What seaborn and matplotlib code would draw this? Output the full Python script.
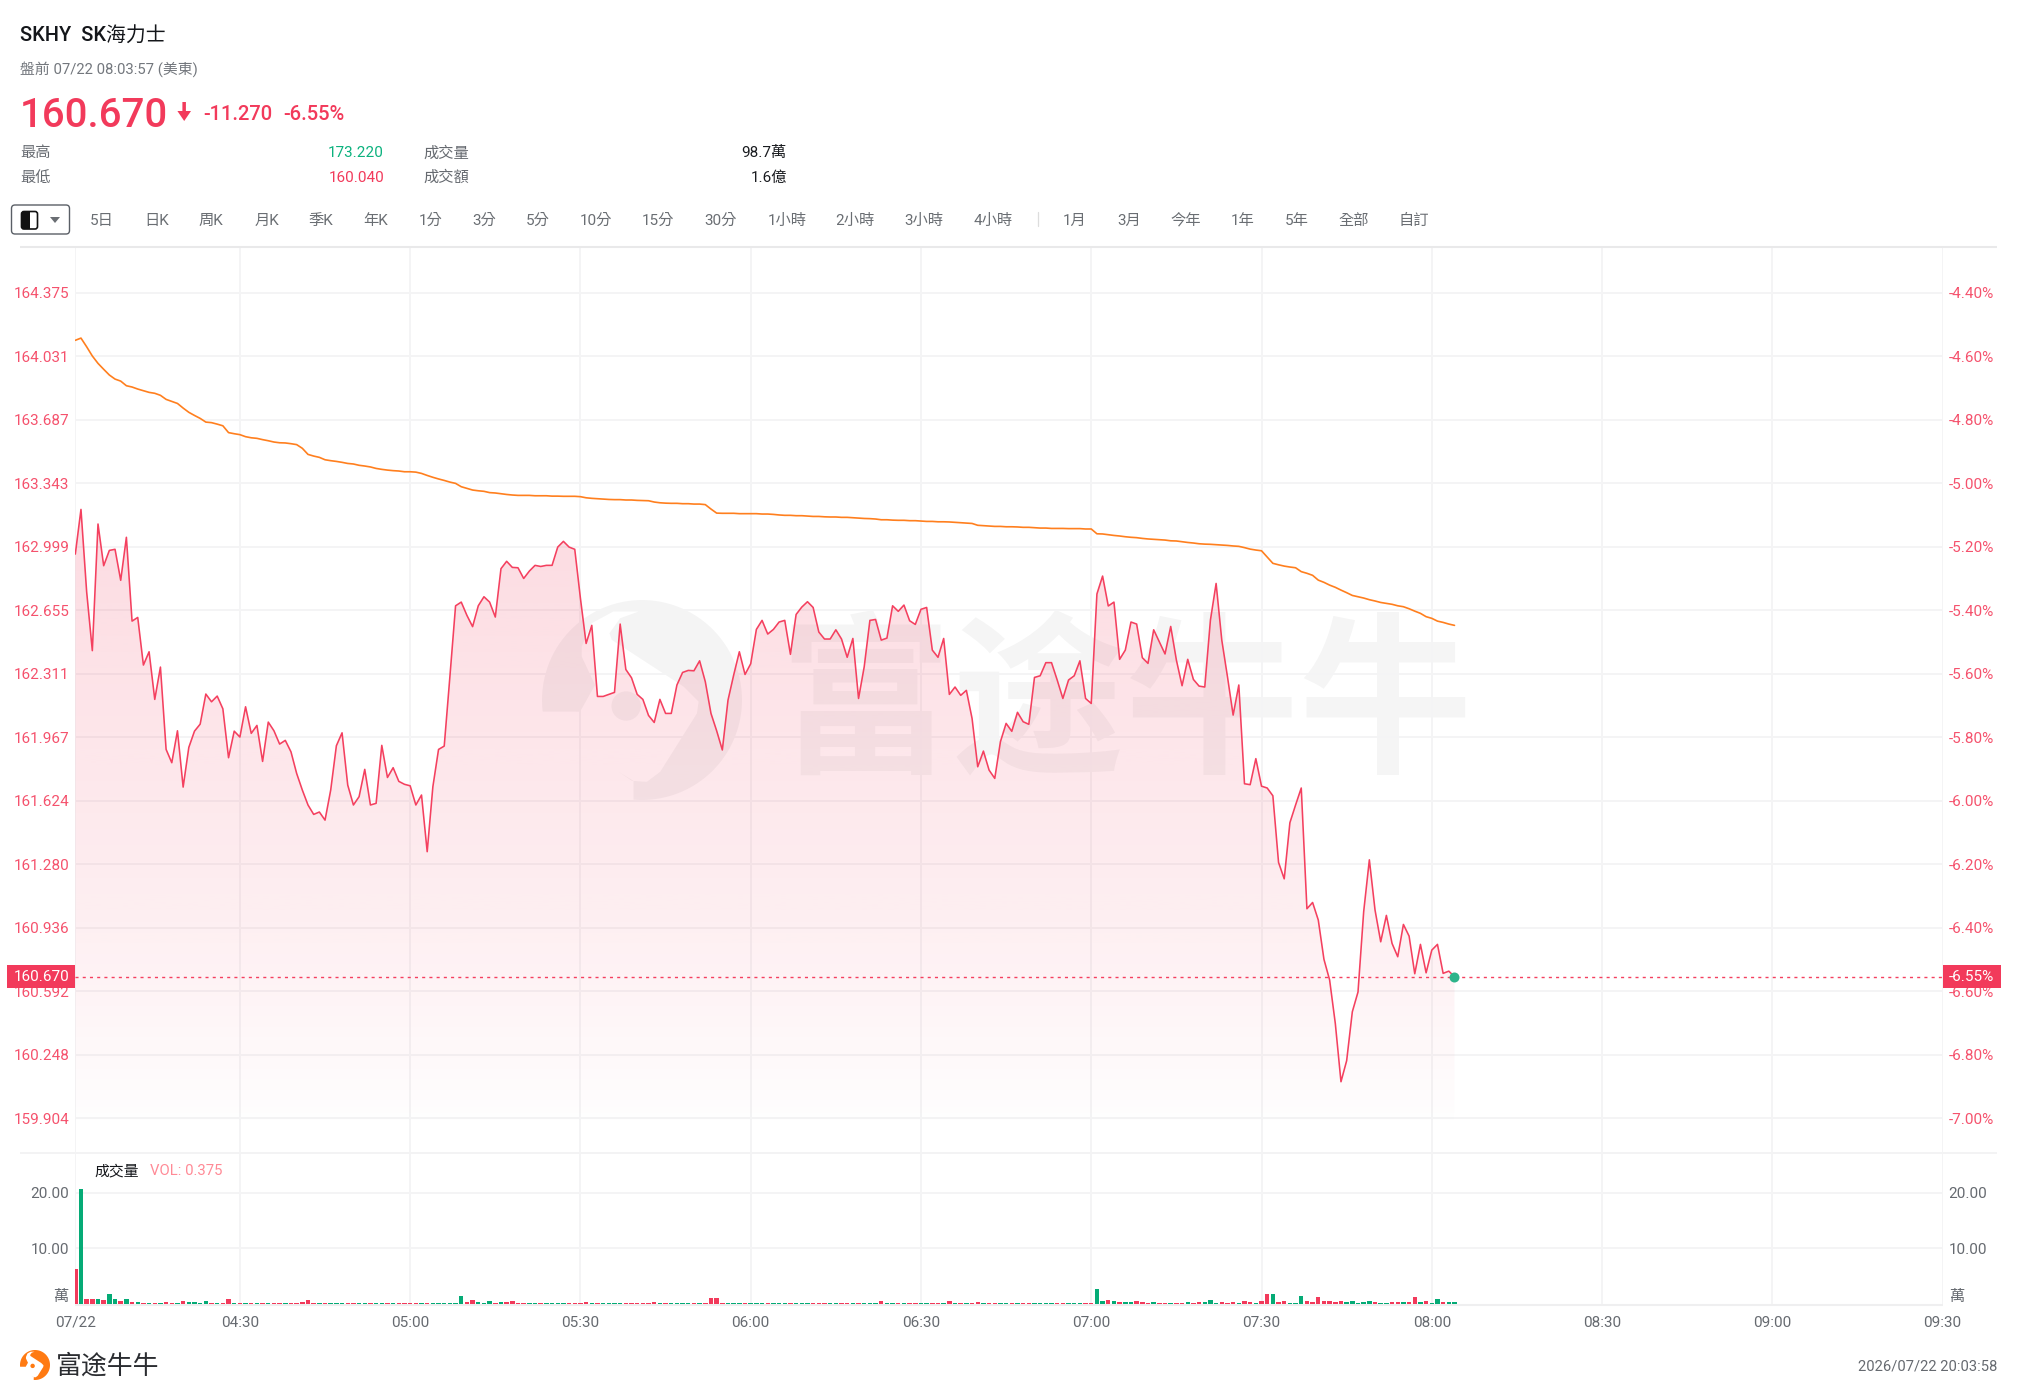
import numpy as np
import pandas as pd
import matplotlib
matplotlib.use("Agg")
import matplotlib.pyplot as plt
from matplotlib.patches import FancyBboxPatch, Polygon, Rectangle, Circle
import seaborn as sns

# ---------- data ----------
price = [
    162.959,163.201,162.755,162.436,163.122,162.896,162.979,162.985,162.817,163.050,
    162.596,162.616,162.358,162.430,162.172,162.347,161.901,161.829,162.002,161.697,
    161.912,162.000,162.038,162.201,162.159,162.190,162.121,161.856,162.000,161.968,
    162.132,161.988,162.031,161.836,162.049,162.002,161.930,161.950,161.888,161.771,
    161.681,161.600,161.549,161.562,161.518,161.681,161.921,161.991,161.708,161.600,
    161.645,161.793,161.600,161.609,161.923,161.749,161.802,161.728,161.712,161.704,
    161.600,161.654,161.347,161.699,161.901,161.919,162.295,162.679,162.699,162.627,
    162.566,162.679,162.728,162.699,162.618,162.880,162.920,162.887,162.885,162.827,
    162.867,162.898,162.892,162.898,162.898,162.997,163.028,162.997,162.985,162.719,
    162.475,162.573,162.188,162.188,162.199,162.210,162.580,162.334,162.289,162.199,
    162.172,162.085,162.047,162.172,162.096,162.096,162.250,162.318,162.329,162.327,
    162.381,162.268,162.096,162.002,161.898,162.168,162.304,162.430,162.307,162.365,
    162.551,162.600,162.526,162.551,162.591,162.600,162.416,162.632,162.672,162.701,
    162.670,162.537,162.499,162.499,162.549,162.499,162.400,162.502,162.177,162.349,
    162.600,162.605,162.493,162.504,162.679,162.649,162.683,162.598,162.578,162.660,
    162.670,162.439,162.400,162.502,162.199,162.239,162.194,162.221,162.069,161.807,
    161.892,161.789,161.744,161.943,162.042,161.999,162.102,162.051,162.037,162.291,
    162.300,162.371,162.371,162.277,162.177,162.277,162.300,162.381,162.177,162.150,
    162.743,162.840,162.678,162.699,162.389,162.439,162.591,162.580,162.398,162.367,
    162.549,162.484,162.418,162.567,162.385,162.246,162.389,162.280,162.244,162.239,
    162.602,162.800,162.493,162.295,162.087,162.250,161.715,161.710,161.851,161.702,
    161.692,161.650,161.289,161.200,161.504,161.600,161.692,161.038,161.072,160.977,
    160.764,160.652,160.417,160.101,160.215,160.480,160.587,161.022,161.303,161.031,
    160.859,161.002,160.850,160.778,160.953,160.890,160.686,160.845,160.691,160.814,
    160.845,160.688,160.700,160.670,
]
vwap = [
    164.117,164.129,164.082,164.032,163.992,163.960,163.929,163.907,163.896,163.871,
    163.864,163.853,163.844,163.835,163.830,163.819,163.797,163.786,163.775,163.750,
    163.727,163.710,163.694,163.674,163.671,163.663,163.654,163.617,163.611,163.606,
    163.595,163.589,163.586,163.579,163.573,163.566,163.562,163.561,163.557,163.552,
    163.532,163.499,163.490,163.483,163.470,163.465,163.461,163.456,163.450,163.447,
    163.440,163.436,163.431,163.423,163.418,163.414,163.411,163.409,163.405,163.405,
    163.403,163.396,163.385,163.375,163.366,163.358,163.349,163.342,163.324,163.315,
    163.306,163.302,163.299,163.292,163.290,163.286,163.282,163.279,163.277,163.277,
    163.277,163.275,163.275,163.275,163.273,163.273,163.272,163.272,163.272,163.270,
    163.264,163.261,163.259,163.257,163.255,163.254,163.254,163.252,163.252,163.250,
    163.249,163.248,163.241,163.237,163.235,163.234,163.234,163.232,163.232,163.230,
    163.230,163.227,163.203,163.181,163.180,163.180,163.180,163.178,163.178,163.178,
    163.178,163.176,163.176,163.174,163.171,163.169,163.169,163.167,163.167,163.165,
    163.163,163.163,163.161,163.160,163.160,163.158,163.158,163.156,163.154,163.152,
    163.151,163.149,163.145,163.145,163.143,163.142,163.142,163.140,163.140,163.138,
    163.136,163.136,163.134,163.134,163.133,163.131,163.129,163.127,163.125,163.115,
    163.113,163.111,163.109,163.109,163.107,163.107,163.106,163.104,163.104,163.102,
    163.100,163.100,163.098,163.098,163.098,163.097,163.097,163.097,163.095,163.095,
    163.069,163.068,163.064,163.060,163.057,163.053,163.050,163.048,163.044,163.041,
    163.039,163.037,163.035,163.031,163.030,163.026,163.022,163.019,163.015,163.013,
    163.012,163.010,163.008,163.006,163.003,163.001,162.994,162.986,162.981,162.977,
    162.943,162.909,162.901,162.894,162.889,162.885,162.864,162.855,162.844,162.818,
    162.806,162.791,162.779,162.764,162.750,162.735,162.728,162.721,162.712,162.705,
    162.697,162.692,162.687,162.679,162.674,162.663,162.650,162.638,162.620,162.611,
    162.596,162.589,162.580,162.573,
]
volume = [
    6.3,20.6,0.9,0.9,0.8,0.7,1.8,0.8,0.5,0.9,
    0.3,0.3,0.2,0.2,0.2,0.2,0.3,0.2,0.2,0.5,
    0.35,0.3,0.2,0.5,0.2,0.2,0.2,0.9,0.2,0.2,
    0.25,0.2,0.2,0.2,0.2,0.2,0.2,0.2,0.2,0.2,
    0.4,0.7,0.2,0.2,0.2,0.2,0.2,0.2,0.2,0.2,
    0.2,0.2,0.2,0.2,0.2,0.2,0.2,0.2,0.2,0.2,
    0.2,0.2,0.2,0.2,0.2,0.2,0.2,0.2,1.4,0.35,
    0.65,0.35,0.2,0.55,0.2,0.3,0.4,0.5,0.2,0.2,
    0.2,0.2,0.2,0.2,0.2,0.2,0.2,0.2,0.2,0.2,
    0.4,0.2,0.2,0.2,0.2,0.2,0.2,0.2,0.2,0.2,
    0.2,0.2,0.3,0.2,0.2,0.2,0.2,0.2,0.2,0.2,
    0.2,0.2,1.1,1.0,0.2,0.2,0.2,0.2,0.2,0.2,
    0.2,0.2,0.2,0.2,0.2,0.2,0.2,0.2,0.25,0.2,
    0.2,0.2,0.2,0.2,0.2,0.2,0.2,0.2,0.2,0.2,
    0.2,0.2,0.45,0.2,0.2,0.2,0.2,0.2,0.2,0.2,
    0.2,0.2,0.2,0.2,0.45,0.2,0.2,0.2,0.2,0.35,
    0.2,0.2,0.2,0.2,0.2,0.2,0.2,0.2,0.2,0.2,
    0.2,0.2,0.2,0.2,0.2,0.2,0.2,0.2,0.2,0.2,
    2.6,0.5,0.65,0.6,0.3,0.3,0.3,0.55,0.35,0.25,
    0.35,0.2,0.2,0.2,0.2,0.2,0.35,0.2,0.3,0.35,
    0.65,0.2,0.4,0.2,0.3,0.2,0.55,0.35,0.2,0.55,
    1.8,1.8,0.3,0.55,0.2,0.2,1.45,0.55,0.3,1.25,
    0.55,0.55,0.35,0.5,0.35,0.55,0.2,0.3,0.55,0.35,
    0.25,0.25,0.4,0.4,0.35,0.3,1.25,0.35,0.55,0.2,
    0.85,0.4,0.3,0.3,
]
green_bars_despite_fall = [73, 199, 211, 230, 243]
red_bars_despite_rise = [0, 76, 218]

prev_close = 171.94
last_price = 160.670
price_ticks = [164.375,164.031,163.687,163.343,162.999,162.655,162.311,
               161.967,161.624,161.280,160.936,160.592,160.248,159.904]
price_tick_labels = ["164.375","164.031","163.687","163.343","162.999","162.655","162.311",
                     "161.967","161.624","161.280","160.936","160.592","160.248","159.904"]
pct_ticks = [-4.40,-4.60,-4.80,-5.00,-5.20,-5.40,-5.60,-5.80,-6.00,-6.20,-6.40,-6.60,-6.80,-7.00]
time_tick_idx = [0,29,59,89,119,149,179,209,239,269,299,329]
time_labels = ["07/22","04:30","05:00","05:30","06:00","06:30","07:00","07:30","08:00","08:30","09:00","09:30"]
vol_ticks = [10, 20]
periods = ["5日","日K","周K","月K","季K","年K","1分","3分","5分","10分","15分","30分",
           "1小時","2小時","3小時","4小時","1月","3月","今年","1年","5年","全部","自訂"]
period_x = [101.4,157,211,266.6,321,376,430.5,484,538,596,658,720.7,787,855,924,993,
            1074.7,1129,1186,1243,1297,1354,1413.6]

# ---------- style ----------
RED = "#F23A5B"
LINE_RED = "#F4405F"
LABEL_RED = "#F5526D"
GREEN = "#05AB76"
ORANGE = "#FF7F1E"
GRID = "#F4F4F5"
GREY = "#666A70"
FONT = ["Roboto", "Noto Sans CJK TC", "DejaVu Sans"]

sns.set_theme(style="white")
plt.rcParams["font.family"] = FONT
plt.rcParams["axes.unicode_minus"] = False

W, H = 2018, 1399
fig = plt.figure(figsize=(W / 100, H / 100), dpi=100, facecolor="white")

def box(x0, y0, x1, y1):
    return [x0 / W, 1 - y1 / H, (x1 - x0) / W, (y1 - y0) / H]

under = fig.add_axes([0, 0, 1, 1], zorder=0)
under.set_xlim(0, W); under.set_ylim(H, 0); under.axis("off")
over = fig.add_axes([0, 0, 1, 1], zorder=10)
over.set_xlim(0, W); over.set_ylim(H, 0); over.axis("off"); over.patch.set_alpha(0)

AX_L, AX_R = 75.3, 1942.6
ax = fig.add_axes(box(AX_L, 248, AX_R, 1153), zorder=2)
vax = fig.add_axes(box(AX_L, 1153, AX_R, 1303.9), zorder=2)
for a in (ax, vax):
    a.patch.set_alpha(0)
    for s in a.spines.values():
        s.set_visible(False)

YMIN, YMAX = 159.715, 164.617
df = pd.DataFrame({"minute": np.arange(len(price)), "price": price, "vwap": vwap, "volume": volume})

# gradient area below the price line
stops_y = [YMAX, 162.9, 161.0, 160.0, 159.85, YMIN]
stops_a = [0.18, 0.17, 0.085, 0.016, 0.0, 0.0]
ys = np.linspace(YMAX, YMIN, 400)
grad = np.zeros((400, 1, 4))
grad[..., 0] = 0xF2 / 255; grad[..., 1] = 0x3A / 255; grad[..., 2] = 0x5B / 255
grad[:, 0, 3] = np.interp(ys, stops_y[::-1], stops_a[::-1])
poly = ax.fill_between(df["minute"], df["price"], YMIN, facecolor="none", linewidth=0)
im = ax.imshow(grad, extent=(0, df["minute"].iloc[-1], YMIN, YMAX), aspect="auto", zorder=1, interpolation="bilinear")
im.set_clip_path(poly.get_paths()[0], transform=ax.transData)

sns.lineplot(data=df, x="minute", y="price", ax=ax, color=LINE_RED, linewidth=1.15, estimator=None, errorbar=None, zorder=3)
sns.lineplot(data=df, x="minute", y="vwap", ax=ax, color=ORANGE, linewidth=1.2, estimator=None, errorbar=None, zorder=3)
ax.axhline(last_price, color=LINE_RED, linewidth=1.0, linestyle=(0, (2.2, 3)), zorder=3)
ax.plot([df["minute"].iloc[-1]], [last_price], "o", color="#2DB48A", markersize=7.2, markeredgewidth=0, zorder=4, clip_on=False)

ax.set_xlim(0, 329); ax.set_ylim(YMIN, YMAX)
ax.set_xticks(time_tick_idx); ax.set_xticklabels([])
ax.set_yticks(price_ticks); ax.set_yticklabels(price_tick_labels)
ax.set_xlabel(""); ax.set_ylabel("")
ax.grid(True, color=GRID, linewidth=1.4, zorder=0)
ax.set_axisbelow(True)
ax.tick_params(axis="x", length=0)
ax.tick_params(axis="y", length=0, pad=4.4, labelsize=11, labelcolor=LABEL_RED)
plt.setp(ax.get_yticklabels(), va="center_baseline")

pax = ax.twinx()
pax.patch.set_alpha(0)
for s in pax.spines.values():
    s.set_visible(False)
pax.set_ylim((YMIN / prev_close - 1) * 100, (YMAX / prev_close - 1) * 100)
pax.set_yticks(pct_ticks); pax.set_yticklabels([f"{v:.2f}%" for v in pct_ticks])
pax.grid(False)
pax.tick_params(axis="y", length=0, pad=4.4, labelsize=11, labelcolor=LABEL_RED)
plt.setp(pax.get_yticklabels(), va="center_baseline")

# volume
closes = np.array(price)
rising = np.r_[True, closes[1:] >= closes[:-1]]
rising[green_bars_despite_fall] = True
rising[red_bars_despite_rise] = False
df["direction"] = np.where(rising, "up", "down")
sns.barplot(data=df, x="minute", y="volume", hue="direction", palette={"up": GREEN, "down": RED},
            native_scale=True, dodge=False, width=0.78, legend=False, ax=vax, zorder=3, saturation=1)
for p in vax.patches:
    centre = p.get_x() + p.get_width() / 2
    p.set_width(0.78)
    p.set_x(centre - 0.39)
    p.set_linewidth(0)
vax.set_xlim(0, 329); vax.set_ylim(0, 27.14)
vax.set_xticks(time_tick_idx); vax.set_xticklabels(time_labels)
vax.set_yticks(vol_ticks); vax.set_yticklabels(["10.00", "20.00"])
vax.set_xlabel(""); vax.set_ylabel("")
vax.grid(True, color=GRID, linewidth=1.4, zorder=0)
vax.set_axisbelow(True)
vax.tick_params(axis="x", length=0, pad=8.5, labelsize=11, labelcolor=GREY)
vax.tick_params(axis="y", length=0, pad=4.4, labelsize=11, labelcolor=GREY)
plt.setp(vax.get_yticklabels(), va="center_baseline")
rvax = vax.twinx()
rvax.patch.set_alpha(0)
for s in rvax.spines.values():
    s.set_visible(False)
rvax.set_ylim(0, 27.14)
rvax.set_yticks(vol_ticks); rvax.set_yticklabels(["10.00", "20.00"])
rvax.grid(False)
rvax.tick_params(axis="y", length=0, pad=4.4, labelsize=11, labelcolor=GREY)
plt.setp(rvax.get_yticklabels(), va="center_baseline")

# ---------- logo shape ----------
def logo_paths(cx, cy, r):
    c0, r0 = (365.5, 330.0), 299.5
    def m(p):
        return ((p[0] - c0[0]) / r0 * r + cx, (p[1] - c0[1]) / r0 * r + cy)
    a0 = np.arctan2(35, -299.5); a1 = np.arctan2(300, -25)
    ang = np.linspace(a0, a1 + 2 * np.pi * (a1 < a0), 90)
    arc = [(c0[0] + r0 * np.cos(v), c0[1] + r0 * np.sin(v)) for v in ang]
    inner = [(340,630),(340,572),(295,545),(335,572),(380,575),(420,545),(530,370),(535,335),(490,290),
             (275,150),(268,130),(300,85),(355,65),(280,65),(215,100),(185,170),(185,200),(225,285),(180,365)]
    body = [m(p) for p in arc + inner]
    dot = (m((318, 348)), 44 / r0 * r)
    return body, dot

def draw_logo(target, cx, cy, r, color, alpha=1.0, z=1):
    body, dot = logo_paths(cx, cy, r)
    target.add_patch(Polygon(body, closed=True, facecolor=color, edgecolor="none", alpha=alpha, zorder=z))
    target.add_patch(Circle(dot[0], dot[1], facecolor=color, edgecolor="none", alpha=alpha, zorder=z))

# watermark
draw_logo(under, 642, 700, 100, "black", alpha=0.045)
under.text(1126, 708, "富途牛牛", family=["Noto Sans CJK SC"], weight="bold", fontsize=125, color="black",
           alpha=0.038, ha="center", va="center")

# ---------- furniture ----------
def t(x, y, s, size=11, color=GREY, ha="left", weight="normal", target=over, **kw):
    return target.text(x, y + 1.2, s, fontsize=size, color=color, ha=ha, va="center", weight=weight, **kw)

t(20, 35.5, "SKHY  SK海力士", size=14.3, color="#14161A", weight="medium")
t(20, 68, "盤前 07/22 08:03:57 (美東)", size=10.7, color="#73777D")
t(20, 114.5, "160.670", size=29, color=RED, weight="medium")
over.add_patch(Polygon([(182.4,102),(185.9,102),(185.9,111),(191,111),(184.2,121),(177.4,111),(182.4,111)],
                       facecolor=RED, edgecolor="none"))
t(203, 113, "-11.270", size=14.5, color=RED, weight="medium")
t(283, 113, "-6.55%", size=14.5, color=RED, weight="medium")

t(20, 152, "最高"); t(20, 176.5, "最低")
t(384, 152, "173.220", color="#0CB27E", ha="right")
t(384, 176.5, "160.040", color=RED, ha="right")
t(423, 152, "成交量"); t(423, 176.5, "成交額")
t(787, 152, "98.7萬", color="#1A1C20", ha="right")
t(787, 176.5, "1.6億", color="#1A1C20", ha="right")

for x, s in zip(period_x, periods):
    t(x, 220, s, ha="center", color="#6A6E73")
over.plot([1038, 1038], [212, 226], color="#DDDDDD", lw=0.9)
over.add_patch(FancyBboxPatch((11.5, 205), 58, 29, boxstyle="round,pad=0,rounding_size=3.5",
                              facecolor="white", edgecolor="#5A5F66", lw=1.0))
over.add_patch(FancyBboxPatch((21.5, 211.5), 16, 17.5, boxstyle="round,pad=0,rounding_size=2.5",
                              facecolor="white", edgecolor="#111111", lw=1.2))
over.add_patch(Rectangle((22, 212), 7.5, 16.5, facecolor="#111111", edgecolor="none"))
over.add_patch(Polygon([(50, 217), (60, 217), (55, 223)], facecolor="#6A6E73", edgecolor="none"))

over.plot([20, 1997], [247, 247], color="#E9E9EA", lw=1.5, solid_capstyle="butt")
under.plot([20, 1997], [1153, 1153], color="#F1F1F2", lw=1.2, solid_capstyle="butt")
under.plot([75, 1942.6], [1304.6, 1304.6], color="#EFEFF0", lw=1.5, solid_capstyle="butt")

t(94.5, 1170, "成交量", size=10.7, color="#14161A")
t(150, 1170, "VOL: 0.375", size=10.7, color="#FF8A96")
t(68, 1295.5, "萬", ha="right", color=GREY)
t(1949, 1295.5, "萬", color=GREY)

# last price badges
over.add_patch(Rectangle((7.3, 965), 67.7, 22.5, facecolor=RED, edgecolor="none"))
t(41.2, 975.5, "160.670", color="white", ha="center")
over.add_patch(Rectangle((1942.6, 965), 58.2, 22.5, facecolor=RED, edgecolor="none"))
t(1971.7, 975.5, "-6.55%", color="white", ha="center")

# footer
draw_logo(over, 35, 1365, 15, "#FF7A12")
t(56, 1364.5, "富途牛牛", size=18.6, color="#2B2D31", weight="medium", family=["Noto Sans CJK SC"])
t(1997, 1365, "2026/07/22 20:03:58", size=10.6, color=GREY, ha="right")

fig.savefig("out.png", dpi=100, facecolor="white")
